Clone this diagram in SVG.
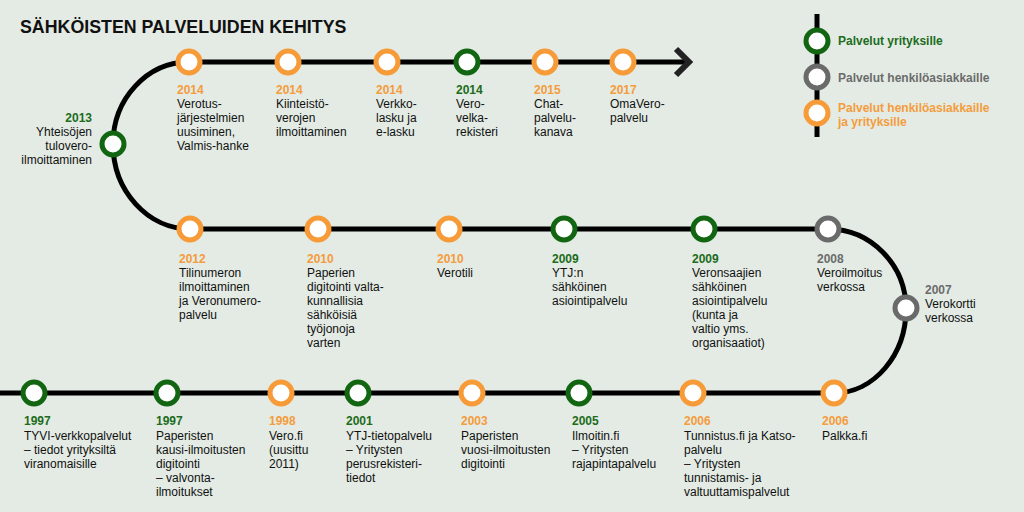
<svg xmlns="http://www.w3.org/2000/svg" width="1024" height="512" viewBox="0 0 1024 512">
<style>
text{font-family:"Liberation Sans",Arial,sans-serif;font-size:12px;fill:#111}
.t{font-size:17.8px;font-weight:bold}
.y{font-weight:bold}
.o .y{fill:#f59c3c}.g .y{fill:#1c6c1c}.p .y{fill:#6b6b6b}
circle{fill:#fff;stroke-width:5}
.o circle{stroke:#f79a38}.g circle{stroke:#126612}.p circle{stroke:#6a6a6a}
.lg{font-weight:bold}
.track{fill:none;stroke:#000;stroke-width:5}
</style>
<rect width="1024" height="512" fill="#e3ebe4"/>
<text class="t" x="20" y="33">SÄHKÖISTEN PALVELUIDEN KEHITYS</text>
<g id="connectors">
<path class="track" d="M686 62 H189 C147 62 113 99 113 144 C113 191 148 229 190 229 H828 C871 229 906 265 906 309 C906 355 874 393 834 393 H0"/>
<path d="M676 49 L689 62 L676 75" fill="none" stroke="#222" stroke-width="6"/>
<line x1="817" y1="14" x2="817" y2="137" stroke="#000" stroke-width="5"/>
</g>
<g id="legend">
<g class="g"><circle cx="817" cy="41" r="11"/><text class="lg" x="838" y="45" style="fill:#1c6c1c">Palvelut yrityksille</text></g>
<g class="p"><circle cx="817" cy="77" r="11"/><text class="lg" x="838" y="82" style="fill:#6b6b6b">Palvelut henkilöasiakkaille</text></g>
<g class="o"><circle cx="817" cy="113" r="11"/><text class="lg" style="fill:#f59c3c"><tspan x="838" y="112">Palvelut henkilöasiakkaille</tspan><tspan x="838" y="126">ja yrityksille</tspan></text></g>
</g>
<g id="n2014a" class="o"><circle cx="189" cy="62" r="11"/><text class="y" x="177" y="94">2014</text><text><tspan x="177" y="108">Verotus-</tspan><tspan x="177" y="122">järjestelmien</tspan><tspan x="177" y="136">uusiminen,</tspan><tspan x="177" y="150">Valmis-hanke</tspan></text></g>
<g id="n2014b" class="o"><circle cx="288" cy="62" r="11"/><text class="y" x="276" y="94">2014</text><text><tspan x="276" y="108">Kiinteistö-</tspan><tspan x="276" y="122">verojen</tspan><tspan x="276" y="136">ilmoittaminen</tspan></text></g>
<g id="n2014c" class="o"><circle cx="387" cy="62" r="11"/><text class="y" x="376" y="94">2014</text><text><tspan x="376" y="108">Verkko-</tspan><tspan x="376" y="122">lasku ja</tspan><tspan x="376" y="136">e-lasku</tspan></text></g>
<g id="n2014d" class="g"><circle cx="467" cy="62" r="11"/><text class="y" x="456" y="94">2014</text><text><tspan x="456" y="108">Vero-</tspan><tspan x="456" y="122">velka-</tspan><tspan x="456" y="136">rekisteri</tspan></text></g>
<g id="n2015" class="o"><circle cx="545" cy="62" r="11"/><text class="y" x="534" y="94">2015</text><text><tspan x="534" y="108">Chat-</tspan><tspan x="534" y="122">palvelu-</tspan><tspan x="534" y="136">kanava</tspan></text></g>
<g id="n2017" class="o"><circle cx="623" cy="62" r="11"/><text class="y" x="610" y="94">2017</text><text><tspan x="610" y="108">OmaVero-</tspan><tspan x="610" y="122">palvelu</tspan></text></g>
<g id="n2013" class="g"><circle cx="113" cy="144" r="11"/><text class="y" x="92" y="122" text-anchor="end">2013</text><text text-anchor="end"><tspan x="92" y="136">Yhteisöjen</tspan><tspan x="92" y="150">tulovero-</tspan><tspan x="92" y="164">ilmoittaminen</tspan></text></g>
<g id="n2012" class="o"><circle cx="190" cy="229" r="11"/><text class="y" x="179" y="263">2012</text><text><tspan x="179" y="277">Tilinumeron</tspan><tspan x="179" y="291">ilmoittaminen</tspan><tspan x="179" y="305">ja Veronumero-</tspan><tspan x="179" y="319">palvelu</tspan></text></g>
<g id="n2010a" class="o"><circle cx="318" cy="229" r="11"/><text class="y" x="307" y="263">2010</text><text><tspan x="307" y="277">Paperien</tspan><tspan x="307" y="291">digitointi valta-</tspan><tspan x="307" y="305">kunnallisia</tspan><tspan x="307" y="319">sähköisiä</tspan><tspan x="307" y="333">työjonoja</tspan><tspan x="307" y="347">varten</tspan></text></g>
<g id="n2010b" class="o"><circle cx="449" cy="229" r="11"/><text class="y" x="437" y="263">2010</text><text x="437" y="277">Verotili</text></g>
<g id="n2009a" class="g"><circle cx="564" cy="229" r="11"/><text class="y" x="552" y="263">2009</text><text><tspan x="552" y="277">YTJ:n</tspan><tspan x="552" y="291">sähköinen</tspan><tspan x="552" y="305">asiointipalvelu</tspan></text></g>
<g id="n2009b" class="g"><circle cx="704" cy="229" r="11"/><text class="y" x="692" y="263">2009</text><text><tspan x="692" y="277">Veronsaajien</tspan><tspan x="692" y="291">sähköinen</tspan><tspan x="692" y="305">asiointipalvelu</tspan><tspan x="692" y="319">(kunta ja</tspan><tspan x="692" y="333">valtio yms.</tspan><tspan x="692" y="347">organisaatiot)</tspan></text></g>
<g id="n2008" class="p"><circle cx="828" cy="229" r="11"/><text class="y" x="817" y="263">2008</text><text><tspan x="817" y="277">Veroilmoitus</tspan><tspan x="817" y="291">verkossa</tspan></text></g>
<g id="n2007" class="p"><circle cx="906" cy="308" r="11"/><text class="y" x="925" y="294">2007</text><text><tspan x="925" y="308">Verokortti</tspan><tspan x="925" y="322">verkossa</tspan></text></g>
<g id="n1997a" class="g"><circle cx="34" cy="393" r="11"/><text class="y" x="24" y="425">1997</text><text><tspan x="24" y="440">TYVI-verkkopalvelut</tspan><tspan x="24" y="454">– tiedot yrityksiltä</tspan><tspan x="24" y="468">viranomaisille</tspan></text></g>
<g id="n1997b" class="g"><circle cx="167" cy="393" r="11"/><text class="y" x="156" y="425">1997</text><text><tspan x="156" y="440">Paperisten</tspan><tspan x="156" y="454">kausi-ilmoitusten</tspan><tspan x="156" y="468">digitointi</tspan><tspan x="156" y="482">– valvonta-</tspan><tspan x="156" y="496">ilmoitukset</tspan></text></g>
<g id="n1998" class="o"><circle cx="281" cy="393" r="11"/><text class="y" x="269" y="425">1998</text><text><tspan x="269" y="440">Vero.fi</tspan><tspan x="269" y="454">(uusittu</tspan><tspan x="269" y="468">2011)</tspan></text></g>
<g id="n2001" class="g"><circle cx="358" cy="393" r="11"/><text class="y" x="346" y="425">2001</text><text><tspan x="346" y="440">YTJ-tietopalvelu</tspan><tspan x="346" y="454">– Yritysten</tspan><tspan x="346" y="468">perusrekisteri-</tspan><tspan x="346" y="482">tiedot</tspan></text></g>
<g id="n2003" class="o"><circle cx="472" cy="393" r="11"/><text class="y" x="461" y="425">2003</text><text><tspan x="461" y="440">Paperisten</tspan><tspan x="461" y="454">vuosi-ilmoitusten</tspan><tspan x="461" y="468">digitointi</tspan></text></g>
<g id="n2005" class="g"><circle cx="579" cy="393" r="11"/><text class="y" x="572" y="425">2005</text><text><tspan x="572" y="440">Ilmoitin.fi</tspan><tspan x="572" y="454">– Yritysten</tspan><tspan x="572" y="468">rajapintapalvelu</tspan></text></g>
<g id="n2006a" class="o"><circle cx="693" cy="393" r="11"/><text class="y" x="684" y="425">2006</text><text><tspan x="684" y="440">Tunnistus.fi ja Katso-</tspan><tspan x="684" y="454">palvelu</tspan><tspan x="684" y="468">– Yritysten</tspan><tspan x="684" y="482">tunnistamis- ja</tspan><tspan x="684" y="496">valtuuttamispalvelut</tspan></text></g>
<g id="n2006b" class="o"><circle cx="834" cy="393" r="11"/><text class="y" x="822" y="425">2006</text><text x="822" y="440">Palkka.fi</text></g>
</svg>
